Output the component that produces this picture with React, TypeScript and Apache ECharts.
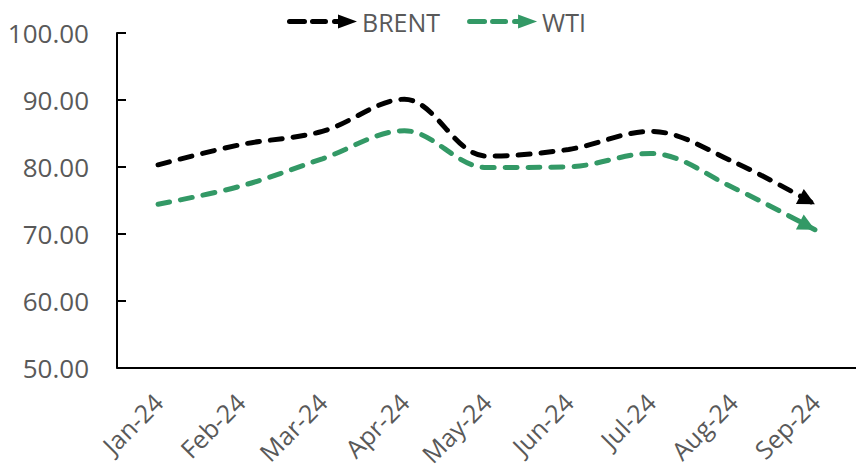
import React, { useEffect, useRef } from "react";
import * as echarts from "echarts";

const categories = ["Jan-24", "Feb-24", "Mar-24", "Apr-24", "May-24", "Jun-24", "Jul-24", "Aug-24", "Sep-24"];
const brent = [80.3, 83.3, 85.3, 90.1, 81.6, 82.6, 85.3, 80.8, 74.4];
const wti = [74.4, 77.1, 81.2, 85.4, 79.9, 80.0, 82.0, 76.9, 70.6];
const seriesNames = ["BRENT", "WTI"];
const colors = ["#000000", "#339966"];

const FONT = "'Open Sans', sans-serif";
const ARROW = 17;

const legendIcon =
  "path://M2.5,4.5 h15 a2.5,2.5 0 0 1 0,5 h-15 a2.5,2.5 0 0 1 0,-5 Z " +
  "M25.5,4.5 h13 a2.5,2.5 0 0 1 0,5 h-13 a2.5,2.5 0 0 1 0,-5 Z " +
  "M47.5,4.5 h4 a2.5,2.5 0 0 1 0,5 h-4 a2.5,2.5 0 0 1 0,-5 Z " +
  "M51,0 L70,7 L51,14 Z";

type Arrow = { rot: number; off: [number, number] };

function buildOption(arrows: Arrow[]) {
  const all = [brent, wti];
  return {
    animation: false,
    legend: {
      top: 4,
      left: 282,
      itemWidth: 70,
      itemHeight: 14,
      itemGap: 27,
      textStyle: { fontFamily: FONT, fontSize: 25, color: "#595959" },
      data: seriesNames.map((n) => ({ name: n, icon: legendIcon })),
    },
    grid: { left: 117, top: 33, right: 0, bottom: 98 },
    xAxis: {
      type: "category",
      data: categories,
      boundaryGap: true,
      axisLine: { lineStyle: { color: "#000", width: 2 } },
      axisTick: { inside: true, length: 9, lineStyle: { color: "#000", width: 2 } },
      axisLabel: { rotate: 45, margin: 30, fontFamily: FONT, fontSize: 25, color: "#595959" },
      splitLine: { show: false },
    },
    yAxis: {
      type: "value",
      min: 50,
      max: 100,
      interval: 10,
      axisLine: { show: true, lineStyle: { color: "#000", width: 2 } },
      axisTick: { show: true, inside: true, length: 9, lineStyle: { color: "#000", width: 2 } },
      axisLabel: {
        margin: 28,
        fontFamily: FONT,
        fontSize: 26,
        color: "#595959",
        formatter: (v: number) => v.toFixed(2),
      },
      splitLine: { show: false },
    },
    series: all.map((vals, s) => ({
      name: seriesNames[s],
      type: "line",
      smooth: 0.35,
      showSymbol: true,
      symbol: "triangle",
      itemStyle: { color: colors[s] },
      lineStyle: { color: colors[s], width: 5, type: [12, 11], cap: "round" },
      data: vals.map((v, i) =>
        i === vals.length - 1
          ? {
              value: v,
              symbol: "triangle",
              symbolSize: ARROW,
              symbolRotate: arrows[s].rot,
              symbolOffset: arrows[s].off,
              itemStyle: { color: colors[s] },
            }
          : { value: v, symbol: "none" }
      ),
    })),
  };
}

export default function App() {
  const ref = useRef<HTMLDivElement>(null);
  useEffect(() => {
    if (!ref.current) return;
    const chart = echarts.init(ref.current, null, { renderer: "svg" });
    const init: Arrow[] = [
      { rot: -120, off: [0, 0] },
      { rot: -120, off: [0, 0] },
    ];
    chart.setOption(buildOption(init));
    const arrows: Arrow[] = [brent, wti].map((vals) => {
      const n = vals.length;
      const a = chart.convertToPixel({ gridIndex: 0 }, [n - 2, vals[n - 2]]) as number[];
      const b = chart.convertToPixel({ gridIndex: 0 }, [n - 1, vals[n - 1]]) as number[];
      const dx = b[0] - a[0];
      const dy = b[1] - a[1];
      const len = Math.hypot(dx, dy) || 1;
      const ux = dx / len;
      const uy = dy / len;
      const theta = (Math.atan2(-dy, dx) * 180) / Math.PI;
      return { rot: theta - 90, off: [-ux * ARROW * 0.5, -uy * ARROW * 0.5] as [number, number] };
    });
    chart.setOption(buildOption(arrows));
    return () => chart.dispose();
  }, []);
  return (
    <div
      ref={ref}
      style={{ position: "fixed", left: 0, top: 0, width: 856, height: 469, background: "#fff" }}
    />
  );
}
